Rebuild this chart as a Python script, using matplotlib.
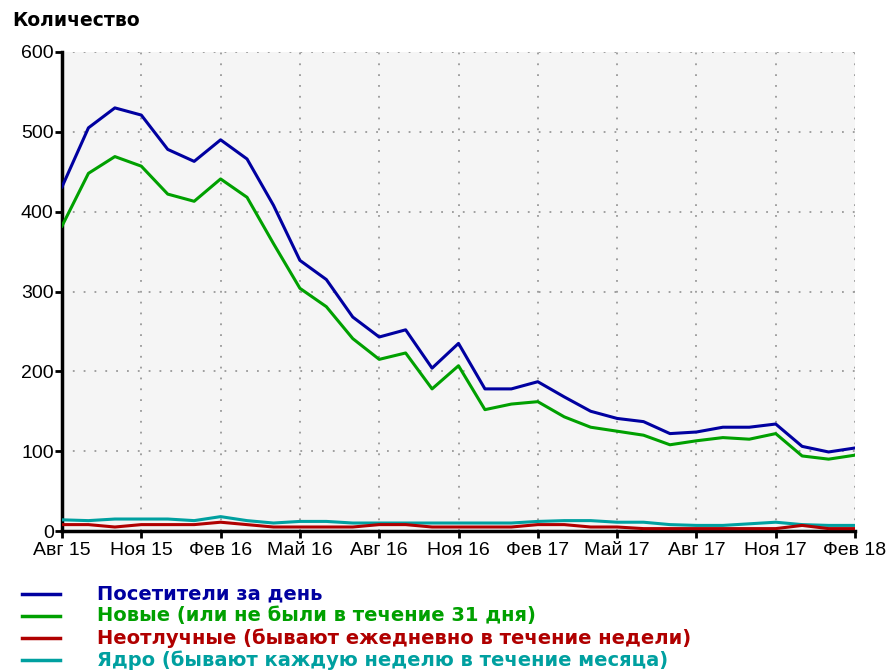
import matplotlib
matplotlib.use("Agg")
import matplotlib.pyplot as plt
from matplotlib.lines import Line2D

plt.rcParams['font.family'] = ['Liberation Sans', 'DejaVu Sans']

months = ["Авг 15", "Сен 15", "Окт 15", "Ноя 15", "Дек 15", "Янв 16", "Фев 16", "Мар 16",
          "Апр 16", "Май 16", "Июн 16", "Июл 16", "Авг 16", "Сен 16", "Окт 16", "Ноя 16",
          "Дек 16", "Янв 17", "Фев 17", "Мар 17", "Апр 17", "Май 17", "Июн 17", "Июл 17",
          "Авг 17", "Сен 17", "Окт 17", "Ноя 17", "Дек 17", "Янв 18", "Фев 18"]
tick_labels = ["Авг 15", "Ноя 15", "Фев 16", "Май 16", "Авг 16", "Ноя 16",
               "Фев 17", "Май 17", "Авг 17", "Ноя 17", "Фев 18"]

visitors = [431, 505, 530, 521, 478, 463, 490, 466, 408, 339, 315, 268, 243, 252, 204, 235,
            178, 178, 187, 168, 150, 141, 137, 122, 124, 130, 130, 134, 106, 99, 104]
new = [382, 448, 469, 457, 422, 413, 441, 418, 360, 304, 281, 241, 215, 223, 178, 207,
       152, 159, 162, 143, 130, 125, 120, 108, 113, 117, 115, 122, 94, 90, 95]
regular = [8, 8, 5, 8, 8, 8, 11, 8, 5, 5, 5, 5, 8, 8, 5, 5,
           5, 5, 8, 8, 5, 5, 3, 3, 3, 3, 3, 3, 7, 3, 3]
core = [14, 13, 15, 15, 15, 13, 18, 13, 10, 12, 12, 10, 10, 10, 10, 10,
        10, 10, 12, 13, 13, 11, 11, 8, 7, 7, 9, 11, 8, 7, 7]

series_names = ["Посетители за день", "Новые (или не были в течение 31 дня)",
                "Неотлучные (бывают ежедневно в течение недели)",
                "Ядро (бывают каждую неделю в течение месяца)"]
colors = ["#0000a0", "#00a000", "#b00000", "#00a0a0"]

fig = plt.figure(figsize=(8.88, 6.72), dpi=100)
ax = fig.add_axes([62/888, 1-531/672, (855-62)/888, (531-52)/672])
ax.set_facecolor("#f5f5f5")

x = list(range(len(months)))
ax.plot(x, core, color=colors[3], lw=2.2, zorder=3)
ax.plot(x, regular, color=colors[2], lw=2.2, zorder=4)
ax.plot(x, new, color=colors[1], lw=2.2, zorder=5)
ax.plot(x, visitors, color=colors[0], lw=2.2, zorder=6)

ax.set_xlim(0, len(months) - 1)
ax.set_ylim(0, 600)
ax.set_xticks(list(range(0, len(months), 3)))
ax.set_xticklabels(tick_labels)
ax.set_yticks([0, 100, 200, 300, 400, 500, 600])

ax.grid(True, color="#999999", linestyle=(0, (1, 5)), linewidth=1.3)
ax.set_axisbelow(True)
for s in ["top", "right"]:
    ax.spines[s].set_visible(False)
for s in ["left", "bottom"]:
    ax.spines[s].set_linewidth(2.5)
    ax.spines[s].set_color("black")
ax.tick_params(axis="both", direction="out", length=5, width=2, labelsize=14, colors="black")
ax.tick_params(axis="x", pad=3)
ax.tick_params(axis="y", pad=1)

bold_font = ['DejaVu Sans']
fig.text(12/888, 1-20/672, "Количество", fontsize=13.5, fontweight="bold",
         family=bold_font, va="center", ha="left")

rows_y = [594, 616, 638, 660]
for name, c, yy in zip(series_names, colors, rows_y):
    yf = 1 - yy/672
    fig.add_artist(Line2D([22/888, 60/888], [yf, yf], color=c, lw=2.5))
    fig.text(97/888, yf, name, color=c, fontsize=14, fontweight="bold",
             family=bold_font, va="center", ha="left")

fig.savefig("out.png", dpi=100)
